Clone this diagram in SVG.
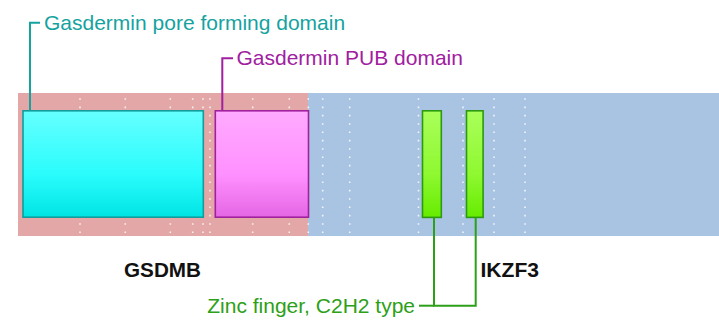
<svg xmlns="http://www.w3.org/2000/svg" width="719" height="326" viewBox="0 0 719 326">
<defs>
<linearGradient id="gCyan" x1="0" y1="0" x2="0" y2="1"><stop offset="0" stop-color="#66ffff"/><stop offset="0.6" stop-color="#2afcfc"/><stop offset="1" stop-color="#00e4e4"/></linearGradient>
<linearGradient id="gPink" x1="0" y1="0" x2="0" y2="1"><stop offset="0" stop-color="#ffaaff"/><stop offset="0.6" stop-color="#ff90ff"/><stop offset="1" stop-color="#e466e4"/></linearGradient>
<linearGradient id="gGreen" x1="0" y1="0" x2="0" y2="1"><stop offset="0" stop-color="#aaff5a"/><stop offset="0.6" stop-color="#8ef830"/><stop offset="1" stop-color="#66ec00"/></linearGradient>
</defs>
<style>
.dots{stroke:#ffffff;stroke-width:1.6;stroke-dasharray:1.6 6.73;opacity:0.85}
.lbl{font-family:"Liberation Sans",Arial,sans-serif;font-size:21px}
.gene{font-family:"Liberation Sans",Arial,sans-serif;font-size:20px;font-weight:bold;fill:#111111}
.cline{fill:none;stroke-width:2}
</style>
<rect width="719" height="326" fill="#ffffff"/>
<g id="gsdmb-bg"><rect x="18" y="93" width="290" height="143" fill="#e3a7a7"/></g>
<g id="ikzf3-bg"><rect x="308" y="93" width="411" height="143" fill="#a8c4e2"/></g>
<g id="gridlines">
<g class="dots">
<line x1="80" y1="98.2" x2="80" y2="234"/>
<line x1="125.3" y1="98.2" x2="125.3" y2="234"/>
<line x1="170.3" y1="98.2" x2="170.3" y2="234"/>
<line x1="192.7" y1="98.2" x2="192.7" y2="234"/>
<line x1="203" y1="98.2" x2="203" y2="234"/>
<line x1="210" y1="98.2" x2="210" y2="234"/>
<line x1="252.7" y1="98.2" x2="252.7" y2="234"/>
<line x1="289.3" y1="98.2" x2="289.3" y2="234"/>
<line x1="308.3" y1="98.2" x2="308.3" y2="234"/>
<line x1="322.7" y1="98.2" x2="322.7" y2="234"/>
<line x1="349.7" y1="98.2" x2="349.7" y2="234"/>
<line x1="418.5" y1="98.2" x2="418.5" y2="234"/>
<line x1="463" y1="98.2" x2="463" y2="234"/>
<line x1="494" y1="98.2" x2="494" y2="234"/>
<line x1="525" y1="98.2" x2="525" y2="234"/>
</g>
</g>
<g id="pore-domain"><rect x="23" y="110.8" width="180.3" height="106.4" fill="url(#gCyan)" stroke="#129c9c" stroke-width="1.6"/></g>
<g id="pub-domain"><rect x="215.3" y="110.8" width="93.2" height="106.4" fill="url(#gPink)" stroke="#a0209e" stroke-width="1.6"/></g>
<g id="zf1"><rect x="422.5" y="110.8" width="18.8" height="106.6" fill="url(#gGreen)" stroke="#2c9a10" stroke-width="1.6"/></g>
<g id="zf2"><rect x="466.5" y="110.8" width="16.6" height="106.6" fill="url(#gGreen)" stroke="#2c9a10" stroke-width="1.6"/></g>
<g id="connectors">
<polyline class="cline" stroke="#15a3a0" points="30,110.5 30,22.7 40,22.7"/>
<polyline class="cline" stroke="#a020a0" points="222.3,110.5 222.3,58.3 233,58.3"/>
<polyline class="cline" stroke="#2ca018" points="434,217.5 434,305.7 475.7,305.7 475.7,217.5"/>
<line class="cline" stroke="#2ca018" x1="419" y1="305.7" x2="434" y2="305.7"/>
</g>
<g id="label-pore"><text class="lbl" x="44" y="30" fill="#15a3a0">Gasdermin pore forming domain</text></g>
<g id="label-pub"><text class="lbl" x="236.5" y="65" fill="#a020a0">Gasdermin PUB domain</text></g>
<g id="label-zf"><text class="lbl" x="415" y="313.3" fill="#2ca018" text-anchor="end">Zinc finger, C2H2 type</text></g>
<g id="label-gsdmb"><text class="gene" x="124" y="277.3" textLength="77" lengthAdjust="spacingAndGlyphs">GSDMB</text></g>
<g id="label-ikzf3"><text class="gene" x="480.5" y="277.3" textLength="58.5" lengthAdjust="spacingAndGlyphs">IKZF3</text></g>
</svg>
